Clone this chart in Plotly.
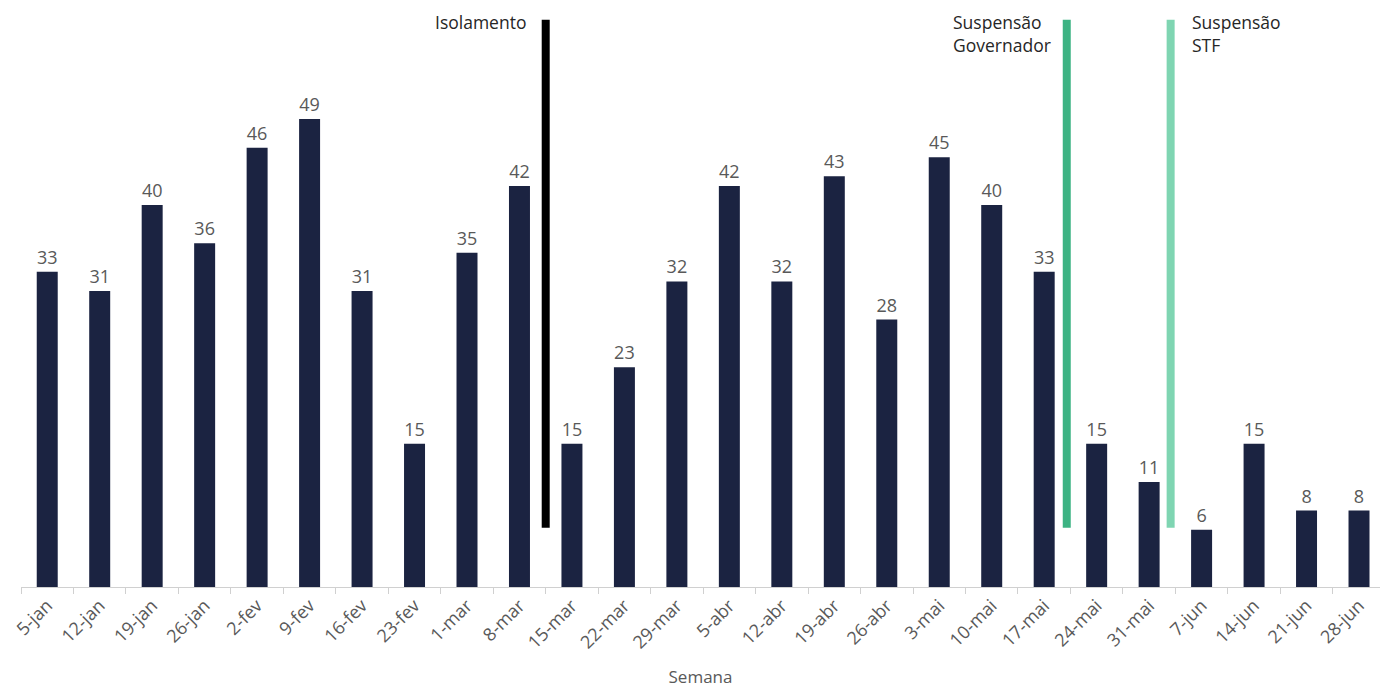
import plotly.graph_objects as go

semanas = ["5-jan", "12-jan", "19-jan", "26-jan", "2-fev", "9-fev", "16-fev", "23-fev",
           "1-mar", "8-mar", "15-mar", "22-mar", "29-mar", "5-abr", "12-abr", "19-abr",
           "26-abr", "3-mai", "10-mai", "17-mai", "24-mai", "31-mai", "7-jun", "14-jun",
           "21-jun", "28-jun"]
valores = [33, 31, 40, 36, 46, 49, 31, 15, 35, 42, 15, 23, 32, 42, 32, 43, 28, 45, 40, 33,
           15, 11, 6, 15, 8, 8]

eventos = ["Isolamento", "Suspensão<br>Governador", "Suspensão<br>STF"]
eventos_pos = [9.5, 19.43, 21.41]
eventos_cor = ["#000000", "#3DB383", "#7FD5B2"]
linha_y = [6.2, 59.4]

FONT = "Open Sans"
GRAY = "#595959"

fig = go.Figure()
fig.add_trace(go.Bar(
    x=semanas, y=valores, width=0.4,
    marker=dict(color="#1B2341", line=dict(width=0)),
    text=valores, textposition="outside", cliponaxis=False,
    textfont=dict(family=FONT, size=18, color=GRAY),
))

for i, (nome, pos, cor) in enumerate(zip(eventos, eventos_pos, eventos_cor)):
    fig.add_shape(type="line", xref="x", yref="y", x0=pos, x1=pos,
                  y0=linha_y[0], y1=linha_y[1], line=dict(color=cor, width=8))
    if i == 2:
        fig.add_annotation(x=pos, y=60, xref="x", yref="y", text=nome, showarrow=False,
                           xanchor="left", yanchor="top", align="left", xshift=19, yshift=6,
                           font=dict(family=FONT, size=17.5, color="#262626"))
    else:
        fig.add_annotation(x=pos, y=60, xref="x", yref="y", text=nome, showarrow=False,
                           xanchor="right", yanchor="top", align="left",
                           xshift=-18 if i == 0 else -14, yshift=6,
                           font=dict(family=FONT, size=17.5, color="#262626"))

fig.update_layout(
    width=1380, height=688,
    margin=dict(l=21, r=0, t=14, b=101),
    paper_bgcolor="white", plot_bgcolor="white",
    showlegend=False,
    bargap=0.6,
    font=dict(family=FONT, color=GRAY),
    xaxis=dict(
        type="category", tickangle=-45, tickson="boundaries",
        range=[-0.5, 25.4],
        ticks="outside", ticklen=6, tickcolor="#D0D0D0",
        showline=True, linecolor="#D0D0D0", linewidth=1,
        tickfont=dict(family=FONT, size=18, color=GRAY),
        title=dict(text="Semana", font=dict(family=FONT, size=17, color=GRAY), standoff=21),
        showgrid=False,
    ),
    yaxis=dict(range=[0, 60], visible=False, showgrid=False, zeroline=False),
)

fig.write_html("out.html")
